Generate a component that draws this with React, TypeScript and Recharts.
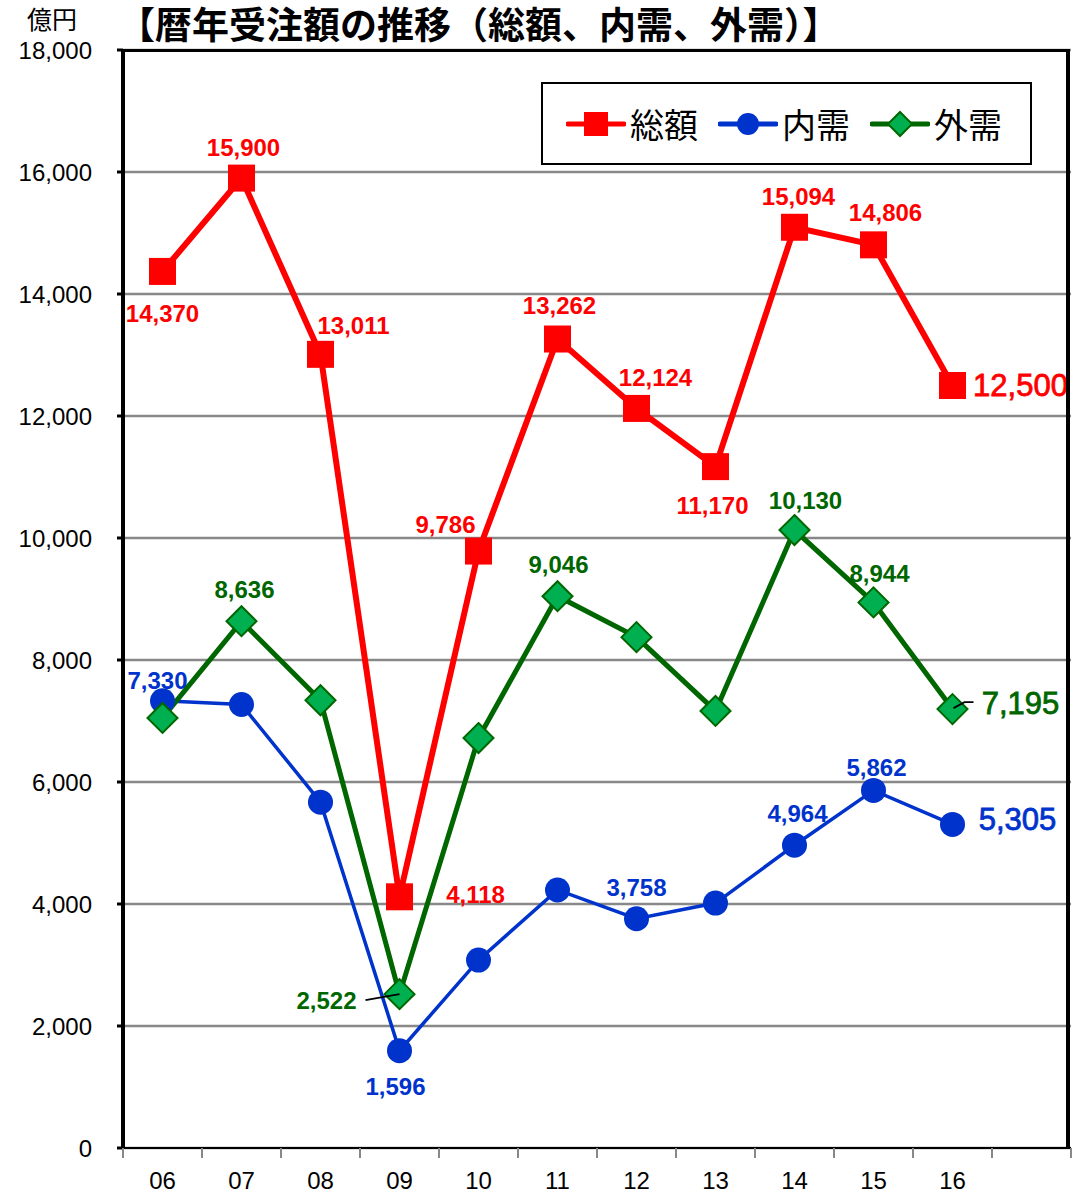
import { LineChart, Line, XAxis, YAxis, CartesianGrid } from 'recharts';

const years = ['06', '07', '08', '09', '10', '11', '12', '13', '14', '15', '16'];
const total = [14370, 15900, 13011, 4118, 9786, 13262, 12124, 11170, 15094, 14806, 12500];
const domestic = [7330, 7270, 5670, 1596, 3080, 4230, 3758, 4015, 4964, 5862, 5305];
const overseas = [7050, 8636, 7340, 2522, 6720, 9046, 8375, 7165, 10130, 8944, 7195];
const yTicks = [0, 2000, 4000, 6000, 8000, 10000, 12000, 14000, 16000, 18000];

// one empty slot at the right end, like the original sheet
const data = [
  ...years.map((year, i) => ({ year, total: total[i], domestic: domestic[i], overseas: overseas[i] })),
  { year: '' },
];

const W = 1079;
const H = 1194;
const M = { top: 50, right: 8, left: 0, bottom: 0 };
const Y_W = 123;
const X_H = 46;
const BAND = (W - Y_W - M.right) / data.length;

const RED = '#ff0000';
const BLUE = '#0033cc';
const GREEN = '#006600';
const GREEN_FILL = '#00b050';
const NUM_FONT = '"Liberation Sans", Arial, sans-serif';
const JP_FONT = '"Noto Sans CJK JP", sans-serif';

type Place = { dx: number; dy: number; big?: boolean; leader?: number[] };

const totalPlaces: Record<number, Place> = {
  0: { dx: 0, dy: 42 },
  1: { dx: 2, dy: -31 },
  2: { dx: 33, dy: -29 },
  3: { dx: 76, dy: -2 },
  4: { dx: -33, dy: -27 },
  5: { dx: 2, dy: -34 },
  6: { dx: 19, dy: -31 },
  7: { dx: -3, dy: 39 },
  8: { dx: 4, dy: -31 },
  9: { dx: 12, dy: -32 },
  10: { dx: 68, dy: 0, big: true },
};

const domesticPlaces: Record<number, Place> = {
  0: { dx: -5, dy: -20 },
  3: { dx: -4, dy: 36 },
  6: { dx: 0, dy: -31 },
  8: { dx: 3, dy: -32 },
  9: { dx: 3, dy: -23 },
  10: { dx: 65, dy: -5, big: true },
};

const overseasPlaces: Record<number, Place> = {
  1: { dx: 3, dy: -32 },
  3: { dx: -73, dy: 6, leader: [-34, 6, 0, 0] },
  5: { dx: 1, dy: -32 },
  8: { dx: 11, dy: -30 },
  9: { dx: 6, dy: -29 },
  10: { dx: 68, dy: -6, big: true, leader: [1, -1, 12, -7, 21, -7] },
};

const fmt = (v: number) => v.toLocaleString('en-US');

function makeLabel(color: string, places: Record<number, Place>) {
  return (props: any) => {
    const { x, y, value, index } = props;
    const p = places[index];
    if (!p || value == null || x == null) return <g key={`l-${index}`} />;
    let leader = null;
    if (p.leader) {
      const pts: string[] = [];
      for (let k = 0; k < p.leader.length; k += 2) pts.push(`${x + p.leader[k]},${y + p.leader[k + 1]}`);
      leader = <polyline points={pts.join(' ')} fill="none" stroke="#000" strokeWidth={1.8} />;
    }
    return (
      <g key={`l-${index}`}>
        {leader}
        <text
          x={x + p.dx}
          y={y + p.dy}
          textAnchor="middle"
          dominantBaseline="central"
          fill={color}
          stroke={p.big ? color : 'none'}
          strokeWidth={p.big ? 0.8 : 0}
          fontFamily={NUM_FONT}
          fontSize={p.big ? 31 : 24}
          fontWeight={p.big ? 'normal' : 'bold'}
        >
          {fmt(value)}
        </text>
      </g>
    );
  };
}

const SquareDot = (props: any) => {
  const { cx, cy, index } = props;
  if (cx == null || cy == null || props.value == null) return <g key={`s-${index}`} />;
  return <rect key={`s-${index}`} x={cx - 13.5} y={cy - 13.5} width={27} height={27} fill={RED} />;
};

const CircleDot = (props: any) => {
  const { cx, cy, index } = props;
  if (cx == null || cy == null || props.value == null) return <g key={`c-${index}`} />;
  return <circle key={`c-${index}`} cx={cx} cy={cy} r={12.5} fill={BLUE} />;
};

const DiamondDot = (props: any) => {
  const { cx, cy, index } = props;
  if (cx == null || cy == null || props.value == null) return <g key={`d-${index}`} />;
  const r = 15;
  return (
    <polygon
      key={`d-${index}`}
      points={`${cx},${cy - r} ${cx + r},${cy} ${cx},${cy + r} ${cx - r},${cy}`}
      fill={GREEN_FILL}
      stroke={GREEN}
      strokeWidth={2}
    />
  );
};

const XTick = (props: any) => {
  const { x, y, payload, index } = props;
  const left = x - BAND / 2;
  return (
    <g>
      <line x1={left} y1={y} x2={left} y2={y + 10} stroke="#888" strokeWidth={2} />
      {index === data.length - 1 && (
        <line x1={x + BAND / 2} y1={y} x2={x + BAND / 2} y2={y + 10} stroke="#888" strokeWidth={2} />
      )}
      <text x={x} y={y + 32} textAnchor="middle" dominantBaseline="central" fill="#000" fontFamily={NUM_FONT} fontSize={24}>
        {payload.value}
      </text>
    </g>
  );
};

function LegendBox() {
  const items = [
    { name: '総額', color: RED, icon: 'square' },
    { name: '内需', color: BLUE, icon: 'circle' },
    { name: '外需', color: GREEN, icon: 'diamond' },
  ];
  return (
    <div
      style={{
        position: 'absolute',
        left: 541,
        top: 82,
        width: 491,
        height: 83,
        border: '2px solid #000',
        background: '#fff',
        display: 'flex',
        alignItems: 'center',
        paddingLeft: 23,
        boxSizing: 'border-box',
      }}
    >
      {items.map((it) => (
        <div key={it.name} style={{ display: 'flex', alignItems: 'center', marginRight: 20 }}>
          <svg width={60} height={30} style={{ display: 'block' }}>
            <line x1={2} y1={15} x2={58} y2={15} stroke={it.color} strokeWidth={5} strokeLinecap="round" />
            {it.icon === 'square' && <rect x={18} y={3} width={24} height={24} fill={RED} />}
            {it.icon === 'circle' && <circle cx={30} cy={15} r={11} fill={BLUE} />}
            {it.icon === 'diamond' && (
              <polygon points="30,3 42,15 30,27 18,15" fill={GREEN_FILL} stroke={GREEN} strokeWidth={2} />
            )}
          </svg>
          <span style={{ fontFamily: JP_FONT, fontSize: 34, color: '#000', marginLeft: 4, lineHeight: 1 }}>{it.name}</span>
        </div>
      ))}
    </div>
  );
}

export default function App() {
  return (
    <div style={{ position: 'absolute', left: 0, top: 0, width: W, height: H, background: '#fff' }}>
      <LineChart width={W} height={H} data={data} margin={M}>
        <CartesianGrid vertical={false} stroke="#888" strokeWidth={2.5} />
        <XAxis
          dataKey="year"
          scale="band"
          height={X_H}
          axisLine={{ stroke: '#000', strokeWidth: 2 }}
          tickLine={false}
          tickSize={0}
          tickMargin={0}
          interval={0}
          tick={<XTick />}
        />
        <YAxis
          domain={[0, 18000]}
          ticks={yTicks}
          width={Y_W}
          interval={0}
          axisLine={{ stroke: '#000', strokeWidth: 4 }}
          tickLine={{ stroke: '#000', strokeWidth: 3 }}
          tickSize={6}
          tickMargin={25}
          tickFormatter={fmt}
          tick={{ fill: '#000', fontSize: 24, fontFamily: NUM_FONT }}
        />
        <Line
          dataKey="domestic"
          stroke={BLUE}
          strokeWidth={3.5}
          dot={CircleDot}
          activeDot={false}
          label={makeLabel(BLUE, domesticPlaces)}
          isAnimationActive={false}
        />
        <Line
          dataKey="overseas"
          stroke={GREEN}
          strokeWidth={5}
          dot={DiamondDot}
          activeDot={false}
          label={makeLabel(GREEN, overseasPlaces)}
          isAnimationActive={false}
        />
        <Line
          dataKey="total"
          stroke={RED}
          strokeWidth={6}
          dot={SquareDot}
          activeDot={false}
          label={makeLabel(RED, totalPlaces)}
          isAnimationActive={false}
        />
      </LineChart>
      <div
        style={{
          position: 'absolute',
          left: Y_W,
          top: M.top - 1,
          width: W - Y_W - M.right - 1,
          height: H - M.top - X_H,
          borderTop: '3px solid #000',
          borderRight: '4px solid #000',
          boxSizing: 'border-box',
          pointerEvents: 'none',
        }}
      />
      <LegendBox />
      <div
        style={{
          position: 'absolute',
          left: 27,
          top: 6,
          fontFamily: JP_FONT,
          fontSize: 25,
          lineHeight: 1,
          color: '#000',
        }}
      >
        億円
      </div>
      <div
        style={{
          position: 'absolute',
          left: 118,
          top: 3,
          fontFamily: JP_FONT,
          fontSize: 37,
          fontWeight: 'bold',
          lineHeight: '40px',
          color: '#000',
          whiteSpace: 'nowrap',
        }}
      >
        【暦年受注額の推移（総額、内需、外需）】
      </div>
    </div>
  );
}
